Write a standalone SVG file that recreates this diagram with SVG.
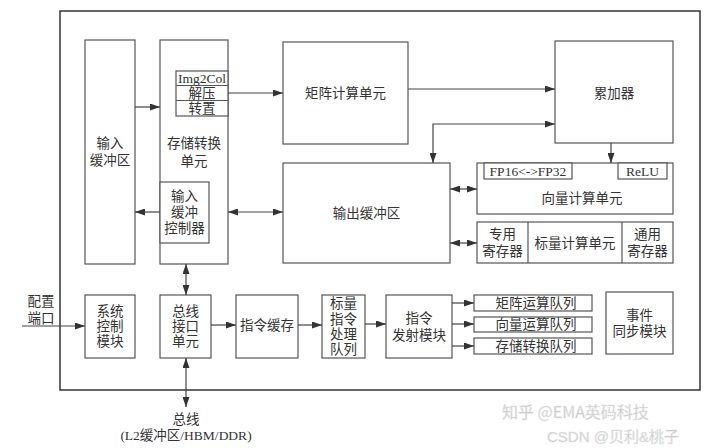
<svg xmlns="http://www.w3.org/2000/svg" width="720" height="448" viewBox="0 0 720 448">
<defs>
<marker id="ah" viewBox="0 0 10 7" markerWidth="10" markerHeight="7" refX="10" refY="3.5" orient="auto-start-reverse" markerUnits="userSpaceOnUse">
<path d="M0,0 L10,3.5 L0,7 z" fill="#333"/>
</marker>
<style>
.b{fill:#fff;stroke:#555;stroke-width:1.2}
.f{fill:none;stroke:#333;stroke-width:1.5}
.t{font-family:"Liberation Serif","Noto Sans CJK SC",serif;font-size:13.5px;fill:#333;text-anchor:middle;dominant-baseline:central}
.c line,.c path{fill:none;stroke:#444;stroke-width:1.2}
.e{marker-end:url(#ah)}
.d{marker-start:url(#ah);marker-end:url(#ah)}
.w{font-family:"Noto Sans CJK SC","Liberation Sans",sans-serif;font-size:16px;fill:#c4c4c4;stroke:#e8e8e8;stroke-width:0.5}
</style>
</defs>
<rect width="720" height="448" fill="#fff"/>
<rect id="frame" class="f" x="60" y="11" width="640" height="379"/>

<g id="input-buffer"><rect class="b" x="85" y="40" width="50" height="224"/>
<text class="t" x="110" y="143">输入</text><text class="t" x="110" y="160">缓冲区</text></g>

<g id="storage-conv"><rect class="b" x="160" y="40" width="68" height="224"/>
<text class="t" x="194" y="143">存储转换</text><text class="t" x="194" y="161">单元</text></g>

<g id="img2col"><rect class="b" x="176" y="71" width="52" height="45"/>
<line x1="176" y1="85.5" x2="228" y2="85.5" stroke="#555" stroke-width="1.2"/>
<line x1="176" y1="100.5" x2="228" y2="100.5" stroke="#555" stroke-width="1.2"/>
<text class="t" x="202" y="78">Img2Col</text><text class="t" x="202" y="93">解压</text><text class="t" x="202" y="108">转置</text></g>

<g id="input-ctrl"><rect class="b" x="160" y="182" width="49" height="61"/>
<text class="t" x="184.5" y="196">输入</text><text class="t" x="184.5" y="212">缓冲</text><text class="t" x="184.5" y="228">控制器</text></g>

<g id="matrix"><rect class="b" x="283" y="42" width="125" height="102"/>
<text class="t" x="345.5" y="93">矩阵计算单元</text></g>

<g id="accumulator"><rect class="b" x="555" y="41" width="118" height="102"/>
<text class="t" x="614" y="93">累加器</text></g>

<g id="output-buffer"><rect class="b" x="283" y="163" width="167" height="100"/>
<text class="t" x="366.5" y="213">输出缓冲区</text></g>

<g id="vector"><rect class="b" x="477" y="163" width="196" height="51"/>
<rect class="b" x="484" y="163" width="88" height="16"/>
<rect class="b" x="618" y="163" width="49" height="16"/>
<text class="t" x="528" y="171">FP16&lt;-&gt;FP32</text><text class="t" x="642.5" y="171">ReLU</text>
<text class="t" x="582" y="198">向量计算单元</text></g>

<g id="scalar"><rect class="b" x="477" y="222" width="196" height="41"/>
<line x1="528" y1="222" x2="528" y2="263" stroke="#555" stroke-width="1.2"/>
<line x1="622" y1="222" x2="622" y2="263" stroke="#555" stroke-width="1.2"/>
<text class="t" x="502.5" y="234">专用</text><text class="t" x="502.5" y="251">寄存器</text>
<text class="t" x="575" y="243">标量计算单元</text>
<text class="t" x="647.5" y="234">通用</text><text class="t" x="647.5" y="251">寄存器</text></g>

<g id="sys-ctrl"><rect class="b" x="85" y="295" width="50" height="63"/>
<text class="t" x="110" y="311">系统</text><text class="t" x="110" y="326">控制</text><text class="t" x="110" y="341">模块</text></g>

<g id="bus-if"><rect class="b" x="160" y="295" width="51" height="63"/>
<text class="t" x="185.5" y="311">总线</text><text class="t" x="185.5" y="326">接口</text><text class="t" x="185.5" y="341">单元</text></g>

<g id="instr-cache"><rect class="b" x="236" y="295" width="62" height="63"/>
<text class="t" x="267" y="325">指令缓存</text></g>

<g id="scalar-queue"><rect class="b" x="322" y="295" width="43" height="63"/>
<text class="t" x="343.5" y="303">标量</text><text class="t" x="343.5" y="319">指令</text><text class="t" x="343.5" y="334">处理</text><text class="t" x="343.5" y="349">队列</text></g>

<g id="issue"><rect class="b" x="386" y="295" width="66" height="63"/>
<text class="t" x="419" y="318">指令</text><text class="t" x="419" y="335">发射模块</text></g>

<g id="q-matrix"><rect class="b" x="474" y="295" width="118" height="16"/><text class="t" x="536" y="303">矩阵运算队列</text></g>
<g id="q-vector"><rect class="b" x="474" y="317" width="118" height="15"/><text class="t" x="536" y="324.5">向量运算队列</text></g>
<g id="q-storage"><rect class="b" x="474" y="338" width="118" height="16"/><text class="t" x="536" y="346">存储转换队列</text></g>

<g id="event-sync"><rect class="b" x="606" y="292" width="67" height="62"/>
<text class="t" x="639.5" y="315">事件</text><text class="t" x="639.5" y="331">同步模块</text></g>

<g id="config-port"><text class="t" x="41" y="301">配置</text><text class="t" x="41" y="318">端口</text></g>
<g id="bus"><text class="t" x="186" y="419">总线</text><text class="t" x="186" y="435">(L2缓冲区/HBM/DDR)</text></g>

<g id="connectors" class="c">
<path class="e" d="M135,107 H160"/>
<path class="e" d="M160,212 H135"/>
<path class="d" d="M228,212 H283"/>
<path class="e" d="M228,93 H283"/>
<path class="e" d="M408,89 H555"/>
<path class="d" d="M555,124 H433 V163"/>
<path class="e" d="M611,143 V163"/>
<path class="d" d="M450,189 H477"/>
<path class="d" d="M450,243 H477"/>
<path class="e" d="M22,326 H85"/>
<path class="d" d="M186,264 V295"/>
<path class="e" d="M211,325 H236"/>
<path class="e" d="M298,325 H322"/>
<path class="e" d="M365,324 H386"/>
<path class="e" d="M452,303 H474"/>
<path class="e" d="M452,324 H474"/>
<path class="e" d="M452,346 H474"/>
<path class="d" d="M186,358 V407"/>
</g>

<g id="watermark">
<text class="w" x="502" y="418">知乎 @EMA英码科技</text>
<text class="w" x="547" y="442" style="font-family:'Liberation Sans','Noto Sans CJK SC',sans-serif;font-size:15px">CSDN @贝利&amp;桃子</text>
</g>
</svg>
